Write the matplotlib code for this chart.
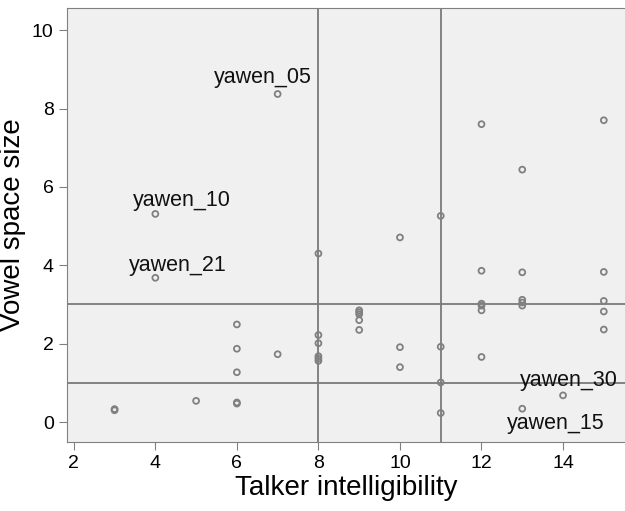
import matplotlib
matplotlib.use("Agg")
import matplotlib.pyplot as plt

plt.rcParams['font.family'] = ['Liberation Sans', 'DejaVu Sans']

# talker intelligibility vs vowel space size
intel = [3, 3, 4, 4, 5, 6, 6, 6, 6, 6, 7, 7,
         8, 8, 8, 8, 8, 8, 9, 9, 9, 9, 9, 10, 10, 10,
         11, 11, 11, 11, 12, 12, 12, 12, 12, 12,
         13, 13, 13, 13, 13, 13, 14, 15, 15, 15, 15, 15]
vsize = [0.30, 0.33, 5.31, 3.68, 0.54, 2.49, 1.87, 1.27, 0.47, 0.50, 1.73, 8.37,
         4.30, 2.22, 2.01, 1.68, 1.62, 1.56, 2.85, 2.80, 2.75, 2.60, 2.35, 4.71, 1.91, 1.40,
         5.26, 1.92, 1.01, 0.23, 7.60, 3.86, 3.02, 2.97, 2.85, 1.66,
         6.44, 3.82, 3.12, 3.05, 2.97, 0.34, 0.68, 7.70, 3.83, 3.09, 2.82, 2.36]

labels = ["yawen_05", "yawen_10", "yawen_21", "yawen_30", "yawen_15"]
label_x = [7, 4, 4, 14, 13]
label_y = [8.37, 5.31, 3.68, 0.68, 0.34]
label_off = [(-11, 12), (19, 10), (16, 9), (4, 11), (24, -11)]

ref_x = [8, 11]
ref_y = [3, 1]

fig = plt.figure(figsize=(6.25, 5.11), dpi=100)
ax = fig.add_axes([0.107, 0.135, 0.893, 0.849])
ax.set_facecolor('#f0f0f0')

for v in ref_x:
    ax.axvline(v, color='#7a7a7a', lw=1.3, zorder=1)
for h in ref_y:
    ax.axhline(h, color='#7a7a7a', lw=1.3, zorder=1)

ax.scatter(intel, vsize, s=18, facecolors='none', edgecolors='#808080',
           linewidths=1.3, zorder=3)

for t, x, y, off in zip(labels, label_x, label_y, label_off):
    ax.annotate(t, (x, y), xytext=off, textcoords='offset points',
                ha='center', va='center', fontsize=15.5, color='#111111')

ax.set_xlim(1.83, 15.52)
ax.set_ylim(-0.51, 10.56)
ax.set_xticks([2, 4, 6, 8, 10, 12, 14])
ax.set_yticks([0, 2, 4, 6, 8, 10])
ax.tick_params(labelsize=14, length=6, color='#808080', direction='out')
for s in ['left', 'bottom', 'top']:
    ax.spines[s].set_color('#808080')
ax.spines['right'].set_visible(False)

ax.set_xlabel("Talker intelligibility", fontsize=20, labelpad=2)
ax.set_ylabel("Vowel space size", fontsize=20, labelpad=4)

fig.savefig("out.png", dpi=100)
